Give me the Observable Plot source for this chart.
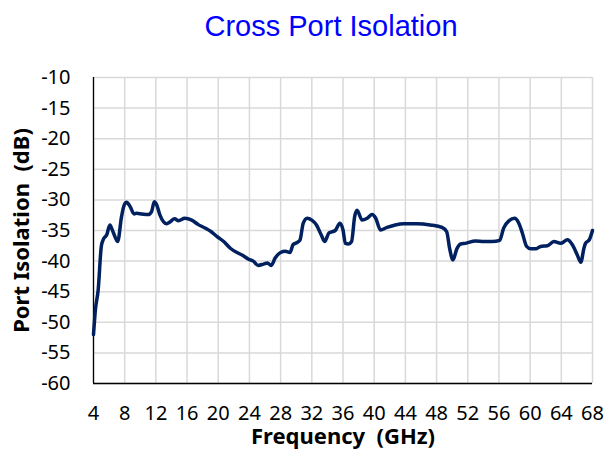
<!DOCTYPE html>
<html>
<head>
<meta charset="utf-8">
<script src="https://cdn.jsdelivr.net/npm/d3@7"></script>
<script src="https://cdn.jsdelivr.net/npm/@observablehq/plot@0.6"></script>
<style>
  body { margin: 0; background: #fff; }
  #title { height: 60px; line-height: 52px; text-align: center; padding-left: 56px; box-sizing: border-box;
           font-family: "Liberation Sans", Arial, sans-serif; font-size: 29px; color: #0000ff; }
  svg text { white-space: pre; }
</style>
</head>
<body>
<div id="title">Cross Port Isolation</div>
<div id="chart"></div>
<script>
const freq = [4.0, 4.25, 4.6, 5.0, 5.25, 5.7, 6.1, 6.5, 7.1, 7.6, 7.95, 8.25, 8.7, 9.2, 9.5, 10.2, 11.0, 11.45, 11.8, 12.1, 12.5, 13.4, 13.8, 14.4, 14.9, 15.7, 16.6, 17.4, 18.3, 19.1, 19.85, 20.7, 21.55, 22.4, 23.05, 23.9, 24.5, 25.1, 25.8, 26.3, 26.8, 27.3, 28.0, 28.6, 29.2, 29.6, 30.2, 30.5, 30.9, 31.4, 32.0, 32.6, 33.2, 33.65, 34.2, 35.0, 35.6, 36.0, 36.3, 36.7, 37.1, 37.5, 37.8, 38.45, 39.1, 39.75, 40.2, 40.8, 41.65, 42.7, 43.8, 45.5, 47.2, 48.7, 49.3, 49.7, 50.1, 50.6, 51.1, 51.7, 53.0, 54.05, 55.15, 56.1, 56.6, 57.3, 58.0, 58.55, 59.0, 59.55, 60.1, 60.7, 61.35, 62.2, 63.05, 63.9, 64.8, 65.4, 66.05, 66.5, 66.9, 67.1, 67.6, 68.0];
const isolation = [-52.0, -47.9, -44.7, -37.6, -36.5, -35.7, -34.1, -35.2, -36.8, -32.7, -30.8, -30.4, -31.1, -32.3, -32.2, -32.3, -32.4, -31.9, -30.3, -30.8, -32.4, -33.9, -33.6, -33.1, -33.4, -33.0, -33.3, -34.0, -34.6, -35.2, -36.0, -36.8, -37.9, -38.6, -39.0, -39.7, -40.0, -40.7, -40.5, -40.3, -40.7, -39.5, -38.6, -38.4, -38.6, -37.3, -36.9, -36.5, -33.8, -33.0, -33.3, -34.1, -35.7, -36.8, -35.4, -35.0, -33.8, -34.9, -37.1, -37.2, -36.8, -32.7, -31.7, -33.3, -33.0, -32.4, -33.0, -34.9, -34.5, -34.1, -33.9, -33.9, -34.1, -34.5, -35.2, -38.1, -39.8, -38.0, -37.2, -37.1, -36.7, -36.8, -36.8, -36.6, -34.6, -33.4, -33.0, -33.8, -35.4, -37.6, -38.0, -38.0, -37.6, -37.5, -36.8, -37.1, -36.5, -37.3, -39.0, -40.2, -37.9, -37.1, -36.5, -35.0];
const xTicks = [4, 8, 12, 16, 20, 24, 28, 32, 36, 40, 44, 48, 52, 56, 60, 64, 68];
const yTicks = [-60, -55, -50, -45, -40, -35, -30, -25, -20, -15, -10];
const xTitle = "Frequency  (GHz)";
const yTitle = "Port Isolation  (dB)";

const data = freq.map((f, i) => ({f, v: isolation[i]}));

const chart = Plot.plot({
  width: 606,
  height: 390,
  marginTop: 17,
  marginBottom: 67,
  marginLeft: 93,
  marginRight: 14,
  style: {fontFamily: "'Noto Sans', sans-serif", fontSize: "20px", color: "#000", background: "#fff"},
  x: {domain: [4, 68]},
  y: {domain: [-60, -10]},
  marks: [
    Plot.gridX(xTicks, {stroke: "#d9d9d9", strokeOpacity: 1, strokeWidth: 1.5}),
    Plot.gridY(yTicks, {stroke: "#d9d9d9", strokeOpacity: 1, strokeWidth: 1.5}),
    Plot.axisX(xTicks, {tickSize: 0, tickPadding: 22, label: null, fontSize: 20, fill: "#000", tickFormat: d => String(d)}),
    Plot.axisY(yTicks, {tickSize: 0, tickPadding: 23, label: null, fontSize: 20, fill: "#000", tickFormat: d => String(d)}),
    Plot.ruleX([4], {stroke: "#000", strokeWidth: 1.3}),
    Plot.ruleY([-60], {stroke: "#000", strokeWidth: 1.3}),
    Plot.line(data, {x: "f", y: "v", stroke: "#002060", strokeWidth: 3.5, curve: "monotone-x"}),
    Plot.text([xTitle], {frameAnchor: "bottom", dy: 53, lineAnchor: "middle", textAnchor: "middle", fontWeight: "bold", fontSize: 22, fill: "#000"}),
    Plot.text([yTitle], {frameAnchor: "left", dx: -72, rotate: -90, lineAnchor: "middle", textAnchor: "middle", fontWeight: "bold", fontSize: 22, fill: "#000"})
  ]
});
document.getElementById("chart").appendChild(chart);
</script>
</body>
</html>
